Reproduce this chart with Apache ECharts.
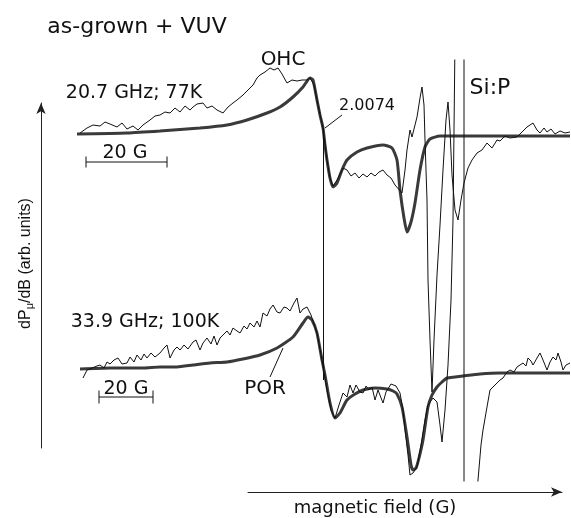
<!DOCTYPE html>
<html>
<head>
<meta charset="utf-8">
<script src="https://cdn.jsdelivr.net/npm/echarts@6/dist/echarts.min.js"></script>
<style>
  html, body { margin: 0; padding: 0; background: #fff; }
  #chart { width: 571px; height: 518px; }
</style>
</head>
<body>
<div id="chart"></div>
<script>
// field position (arb.) and deflection (arb. units)

// 20.7 GHz; 77K - simulation
const topSimX = [77, 127, 160, 200, 227, 247, 267, 280, 293, 303, 310, 313, 317, 320, 323, 325, 327, 330, 333, 337,
  342, 347, 357, 367, 383, 392, 397, 400, 404, 407, 411, 415, 420, 425, 430, 440, 500, 570];
const topSimD = [0, 1, 3, 6, 9, 14, 21, 27, 37, 47, 56, 54, 34, 19, 6, -11, -26, -44, -53, -49,
  -36, -26, -18, -14, -11, -14, -26, -56, -84, -98, -88, -69, -36, -13, -5, -2, -2, -2];

// 20.7 GHz; 77K - experiment
const topExpX = [80, 87, 93, 100, 105, 110, 117, 122, 127, 133, 138, 143, 150, 155, 160, 165, 170, 175, 180, 185,
  190, 193, 197, 203, 207, 212, 217, 223, 228, 233, 237, 243, 248, 253, 257, 260, 265, 270, 274, 278,
  282, 287, 292, 297, 302, 307, 310, 314, 318, 323, 327, 330, 333, 337, 343, 347, 351, 355, 359, 363,
  367, 371, 375, 379, 383, 387, 391, 395, 402, 405, 407, 410, 412, 415, 417, 420, 422, 424, 425, 427,
  428, 430, 432, 434, 437, 440, 443, 446, 448, 450, 452, 455, 458, 461, 464, 468, 472, 477, 482, 487,
  492, 497, 500, 505, 510, 517, 522, 527, 533, 537, 540, 544, 547, 551, 555, 560, 565, 570];
const topExpD = [1, 6, 9, 8, 12, 10, 7, 11, 5, 8, 4, 9, 14, 18, 19, 22, 21, 26, 22, 28,
  24, 27, 30, 31, 26, 28, 24, 21, 27, 31, 34, 39, 44, 49, 56, 59, 62, 66, 64, 66,
  60, 51, 54, 53, 54, 54, 56, 49, 29, 6, -26, -44, -52, -46, -34, -36, -42, -39, -44, -40,
  -43, -39, -42, -38, -36, -41, -44, -51, -59, -36, -16, 4, -3, 9, 17, 36, 47, 29, -6, -66,
  -146, -206, -258, -206, -141, -91, -36, 14, 32, 4, -41, -76, -86, -66, -49, -34, -26, -19, -16, -9,
  -14, -6, -7, -2, -4, -3, 2, 7, 11, 4, 1, 6, 2, 5, 0, 3, 1, 2];

// 33.9 GHz; 100K - simulation
const botSimX = [80, 110, 143, 160, 177, 193, 210, 227, 243, 260, 277, 293, 303, 308, 312, 317, 322, 325, 330, 335,
  340, 347, 355, 363, 375, 387, 393, 397, 402, 407, 411, 413, 416, 419, 423, 428, 432, 437, 442, 447,
  455, 463, 480, 500, 570];
const botSimD = [4, 5, 5, 6, 6, 8, 10, 11, 14, 18, 25, 36, 50, 56, 53, 40, 13, -2, -30, -45,
  -40, -27, -21, -17, -15, -16, -18, -21, -34, -64, -92, -97, -95, -85, -67, -34, -22, -14, -9, -5,
  -4, -3, -1, 0, 0];

// 33.9 GHz; 100K - experiment (Si:P line runs off scale both ways)
const botExpX = [83, 87, 92, 97, 100, 104, 107, 110, 114, 118, 122, 127, 130, 134, 137, 141, 144, 147, 151, 155,
  160, 164, 167, 170, 174, 177, 180, 184, 188, 193, 196, 200, 203, 207, 211, 214, 217, 220, 223, 227,
  230, 233, 237, 240, 244, 247, 250, 254, 257, 260, 263, 267, 270, 273, 277, 280, 284, 287, 290, 294,
  297, 300, 303, 307, 311, 317, 322, 327, 331, 335, 339, 343, 347, 350, 353, 356, 360, 363, 366, 369,
  372, 375, 378, 380, 383, 386, 388, 391, 393, 396, 398, 400, 403, 405, 408, 410, 413, 417, 421, 425,
  428, 433, 437, 440, 442, 445, 448, 451, 453, 455, 460, 464, 464, 476, 478, 481, 483, 487, 490, 494,
  497, 500, 503, 507, 510, 514, 517, 520, 523, 526, 528, 531, 533, 537, 540, 543, 547, 550, 553, 556,
  558, 561, 563, 566, 570];
const botExpD = [-5, 3, 5, 7, 8, 5, 11, 9, 13, 15, 9, 10, 16, 11, 18, 13, 19, 15, 20, 16,
  20, 25, 28, 15, 23, 26, 23, 28, 24, 31, 33, 23, 30, 35, 29, 37, 28, 35, 38, 42,
  38, 45, 42, 40, 47, 44, 50, 46, 52, 46, 60, 57, 64, 68, 61, 60, 66, 65, 62, 70,
  75, 60, 64, 66, 58, 40, 13, -17, -37, -45, -32, -20, -24, -12, -20, -12, -19, -20, -13, -17,
  -14, -27, -17, -19, -30, -19, -17, -11, -9, -13, -15, -20, -37, -57, -82, -102, -100, -94, -72, -47,
  -32, -25, -29, -52, -69, -37, 8, 73, 153, 333, 343, 343, -147, -147, -107, -72, -57, -34, -17, -13,
  -10, -7, -5, 1, 3, 1, 6, 8, 10, 7, 15, 12, 8, 15, 20, 13, 3, 11, 16, 13,
  20, 11, 3, 8, 10];

// 20 G scale bars (field positions of the bar ends)
const scaleTopX = [86, 167];
const scaleBotX = [99, 153];

const TOP_BASE = 384;
const BOT_BASE = 145;

const toData = (xs, ds, base) => xs.map((x, i) => [x, base + ds[i]]);

const FONT = 'DejaVu Sans';
const INK = '#111';

const label = (text, x, y, size) => ({
  type: 'text',
  x: x,
  y: y,
  style: {
    text: text,
    fontFamily: FONT,
    fontSize: size,
    fill: INK,
    align: 'center',
    verticalAlign: 'middle'
  }
});

const chart = echarts.init(document.getElementById('chart'), null, { renderer: 'canvas' });

const option = {
  animation: false,
  backgroundColor: '#fff',
  grid: [
    { left: 0, right: 0, top: 60, bottom: 37 },
    { left: 41, top: 103, width: 10, height: 345 },
    { left: 248, top: 482, width: 314, height: 10 }
  ],
  xAxis: [
    { gridIndex: 0, type: 'value', min: 0, max: 571, show: false },
    { gridIndex: 1, type: 'value', show: false },
    {
      gridIndex: 2, type: 'value', min: 0, max: 1,
      name: 'magnetic field (G)', nameLocation: 'middle', nameGap: 7,
      nameTextStyle: { fontFamily: FONT, fontSize: 18, color: INK, padding: [0, 60, 0, 0] },
      axisLine: { show: true, symbol: ['none', 'arrow'], symbolSize: [7, 11], lineStyle: { color: '#222', width: 1 } },
      axisTick: { show: false }, axisLabel: { show: false }, splitLine: { show: false }
    }
  ],
  yAxis: [
    { gridIndex: 0, type: 'value', min: 37, max: 458, show: false },
    {
      gridIndex: 1, type: 'value', min: 0, max: 1,
      name: 'dP{s|μ}/dB (arb. units)', nameLocation: 'middle', nameGap: 6,
      nameTextStyle: {
        fontFamily: 'Liberation Sans', fontSize: 16, color: INK, padding: [0, 0, 0, 24],
        rich: { s: { fontFamily: 'Liberation Sans', fontSize: 11, color: INK, padding: [7, 0, 0, 0] } }
      },
      axisLine: { show: true, symbol: ['none', 'arrow'], symbolSize: [7, 11], lineStyle: { color: '#222', width: 1 } },
      axisTick: { show: false }, axisLabel: { show: false }, splitLine: { show: false }
    },
    { gridIndex: 2, type: 'value', show: false }
  ],
  series: [
    {
      name: 'top sim', type: 'line', xAxisIndex: 0, yAxisIndex: 0,
      data: toData(topSimX, topSimD, TOP_BASE),
      showSymbol: false, smooth: 0.2,
      lineStyle: { color: '#3a3a3a', width: 3 }, z: 2
    },
    {
      name: 'top exp', type: 'line', xAxisIndex: 0, yAxisIndex: 0,
      data: toData(topExpX, topExpD, TOP_BASE),
      showSymbol: false,
      lineStyle: { color: INK, width: 1 }, z: 3,
      markLine: {
        silent: true, symbol: 'none', label: { show: false },
        lineStyle: { color: INK, width: 1, type: 'solid' },
        data: [
          [{ coord: [342, 403] }, { coord: [325, 390] }],
          [{ coord: [323, 390] }, { coord: [323, 138] }],
          [{ coord: [270, 141] }, { coord: [283, 170] }]
        ]
      }
    },
    {
      name: 'bottom sim', type: 'line', xAxisIndex: 0, yAxisIndex: 0,
      data: toData(botSimX, botSimD, BOT_BASE),
      showSymbol: false, smooth: 0.2,
      lineStyle: { color: '#3a3a3a', width: 3 }, z: 2
    },
    {
      name: 'bottom exp', type: 'line', xAxisIndex: 0, yAxisIndex: 0,
      data: toData(botExpX, botExpD, BOT_BASE),
      showSymbol: false,
      lineStyle: { color: INK, width: 1 }, z: 3
    },
    {
      name: 'scale top', type: 'line', xAxisIndex: 0, yAxisIndex: 0,
      data: scaleTopX.map(x => [x, TOP_BASE - 28]),
      symbol: 'rect', symbolSize: [1, 11], showSymbol: true,
      itemStyle: { color: INK }, lineStyle: { color: INK, width: 1 }
    },
    {
      name: 'scale bottom', type: 'line', xAxisIndex: 0, yAxisIndex: 0,
      data: scaleBotX.map(x => [x, BOT_BASE - 24]),
      symbol: 'rect', symbolSize: [1, 13], showSymbol: true,
      itemStyle: { color: INK }, lineStyle: { color: INK, width: 1 }
    }
  ],
  graphic: [
    label('as-grown + VUV', 137, 27, 22),
    label('OHC', 283, 60, 20),
    label('20.7 GHz; 77K', 134, 93, 19),
    label('20 G', 125, 153, 19),
    label('2.0074', 367, 106, 16),
    label('Si:P', 490, 88, 22),
    label('33.9 GHz; 100K', 145, 322, 19),
    label('20 G', 126, 389, 19),
    label('POR', 265, 389, 20)
  ]
};

chart.setOption(option);
</script>
</body>
</html>
